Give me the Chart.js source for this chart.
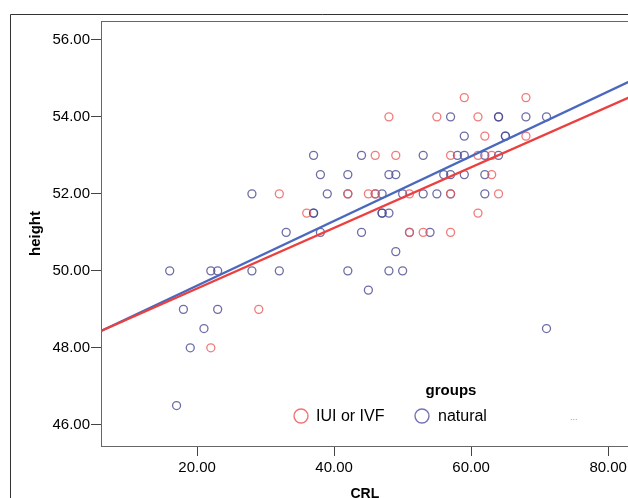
<!DOCTYPE html>
<html>
<head>
<meta charset="utf-8">
<script src="https://cdn.jsdelivr.net/npm/chart.js@4.4.0/dist/chart.umd.min.js"></script>
<style>
  html, body { margin: 0; padding: 0; background: #fff; overflow: hidden; }
  #wrap { width: 628px; height: 498px; overflow: hidden; }
</style>
</head>
<body>
<div id="wrap"><canvas id="scatterChart" width="634" height="510"></canvas></div>
<script>
// values
var ivfCRL    = [48, 59, 68, 55, 61, 46, 49, 32, 42, 45, 46, 51, 36, 51, 53, 57, 62, 68, 57, 61, 63, 63, 57, 64, 61, 29, 22];
var ivfHeight = [54, 54.5, 54.5, 54, 54, 53, 53, 52, 52, 52, 52, 52, 51.5, 51, 51, 51, 53.5, 53.5, 53, 53, 53, 52.5, 52, 52, 51.5, 49, 48];

var naturalCRL    = [57, 64, 64, 68, 71, 59, 65, 65, 37, 44, 53, 58, 59, 62, 64,
                     38, 42, 48, 49, 56, 57, 59, 62,
                     28, 39, 42, 46, 47, 50, 53, 55, 57, 62,
                     37, 37, 47, 47, 48, 33, 38, 44, 51, 54, 49,
                     16, 22, 23, 28, 32, 42, 48, 50, 45, 18, 23, 21, 71, 19, 17];
var naturalHeight = [54, 54, 54, 54, 54, 53.5, 53.5, 53.5, 53, 53, 53, 53, 53, 53, 53,
                     52.5, 52.5, 52.5, 52.5, 52.5, 52.5, 52.5, 52.5,
                     52, 52, 52, 52, 52, 52, 52, 52, 52, 52,
                     51.5, 51.5, 51.5, 51.5, 51.5, 51, 51, 51, 51, 51, 50.5,
                     50, 50, 50, 50, 50, 50, 50, 50, 49.5, 49, 49, 48.5, 48.5, 48, 46.5];

// fit lines (end points across the plot)
var fitCRL        = [5.97, 83.0];
var ivfFitHeight  = [48.44, 54.50];
var natFitHeight  = [48.44, 54.91];

var xTicks = [20, 40, 60, 80];
var yTicks = [46, 48, 50, 52, 54, 56];
var groupNames = ['IUI or IVF', 'natural'];

var redPt = 'rgba(238, 90, 90, 0.8)';
var bluePt = 'rgba(72, 72, 145, 0.8)';

function toPoints(xs, ys) {
    return xs.map(function (x, i) { return { x: x, y: ys[i] }; });
}

var framePlugin = {
    id: 'framePlugin',
    beforeDraw: function (chart) {
        var ctx = chart.ctx;
        ctx.save();
        ctx.strokeStyle = '#333';
        ctx.lineWidth = 1;
        ctx.beginPath();
        ctx.moveTo(10.5, 520);
        ctx.lineTo(10.5, 14.5);
        ctx.lineTo(640, 14.5);
        ctx.stroke();
        ctx.restore();
    },
    afterDraw: function (chart) {
        var ctx = chart.ctx;
        var a = chart.chartArea;
        ctx.save();
        // top of plot box
        ctx.strokeStyle = '#666';
        ctx.lineWidth = 1;
        ctx.beginPath();
        ctx.moveTo(a.left, a.top + 0.5);
        ctx.lineTo(a.right + 10, a.top + 0.5);
        ctx.stroke();

        // legend
        ctx.fillStyle = '#000';
        ctx.textBaseline = 'middle';
        ctx.textAlign = 'center';
        ctx.font = 'bold 15px "Liberation Sans", Arial, sans-serif';
        ctx.fillText('groups', 451, 391);
        ctx.textAlign = 'left';
        ctx.font = '16px "Liberation Sans", Arial, sans-serif';
        var items = [
            { cx: 301, tx: 316, color: 'rgba(238, 90, 90, 0.85)' },
            { cx: 422, tx: 438, color: 'rgba(80, 80, 160, 0.8)' }
        ];
        items.forEach(function (it, i) {
            ctx.strokeStyle = it.color;
            ctx.lineWidth = 1.4;
            ctx.beginPath();
            ctx.arc(it.cx, 416, 7, 0, Math.PI * 2);
            ctx.stroke();
            ctx.fillStyle = '#000';
            ctx.fillText(groupNames[i], it.tx, 417);
        });
        ctx.fillStyle = '#999';
        ctx.font = '9px "Liberation Sans", Arial, sans-serif';
        ctx.fillText('...', 570, 418);
        ctx.restore();
    }
};

var ctx = document.getElementById('scatterChart').getContext('2d');
var scatterChart = new Chart(ctx, {
    type: 'scatter',
    data: {
        datasets: [
            {
                label: 'IUI or IVF fit',
                type: 'line',
                data: toPoints(fitCRL, ivfFitHeight),
                borderColor: 'rgb(236, 64, 64)',
                borderWidth: 2.2,
                pointRadius: 0,
                fill: false,
                order: 0
            },
            {
                label: 'natural fit',
                type: 'line',
                data: toPoints(fitCRL, natFitHeight),
                borderColor: 'rgb(74, 104, 190)',
                borderWidth: 2.2,
                pointRadius: 0,
                fill: false,
                order: 0
            },
            {
                label: groupNames[0],
                data: toPoints(ivfCRL, ivfHeight),
                pointStyle: 'circle',
                pointRadius: 4,
                borderWidth: 1.3,
                borderColor: redPt,
                backgroundColor: 'rgba(0,0,0,0)',
                order: 1
            },
            {
                label: groupNames[1],
                data: toPoints(naturalCRL, naturalHeight),
                pointStyle: 'circle',
                pointRadius: 4,
                borderWidth: 1.3,
                borderColor: bluePt,
                backgroundColor: 'rgba(0,0,0,0)',
                order: 1
            }
        ]
    },
    options: {
        responsive: false,
        animation: false,
        layout: { padding: { top: 21, left: 0, right: 0, bottom: 0 } },
        plugins: {
            legend: { display: false },
            tooltip: { enabled: false }
        },
        scales: {
            x: {
                type: 'linear',
                min: 5.97,
                max: 83.0,
                afterFit: function (scale) {
                    scale.height = 64;
                    scale.paddingLeft = 0;
                    scale.paddingRight = 0;
                },
                afterBuildTicks: function (scale) {
                    scale.ticks = xTicks.map(function (v) { return { value: v }; });
                },
                ticks: {
                    color: '#000',
                    padding: 3,
                    maxRotation: 0,
                    font: { family: '"Liberation Sans", Arial, sans-serif', size: 15 },
                    callback: function (v) { return Number(v).toFixed(2); }
                },
                grid: { drawOnChartArea: false, drawTicks: true, tickLength: 10, color: '#444' },
                border: { display: true, color: '#666', width: 1 },
                title: {
                    display: true,
                    text: 'CRL',
                    color: '#000',
                    padding: { top: 0, bottom: 7 },
                    font: { family: '"Liberation Sans", Arial, sans-serif', size: 14, weight: 'bold' }
                }
            },
            y: {
                type: 'linear',
                min: 45.45,
                max: 56.49,
                afterFit: function (scale) {
                    scale.width = 101;
                    scale.paddingTop = 0;
                    scale.paddingBottom = 0;
                },
                afterBuildTicks: function (scale) {
                    scale.ticks = yTicks.map(function (v) { return { value: v }; });
                },
                ticks: {
                    color: '#000',
                    padding: 1,
                    font: { family: '"Liberation Sans", Arial, sans-serif', size: 15 },
                    callback: function (v) { return Number(v).toFixed(2); }
                },
                grid: { drawOnChartArea: false, drawTicks: true, tickLength: 10, color: '#444' },
                border: { display: true, color: '#666', width: 1 },
                title: {
                    display: true,
                    text: 'height',
                    color: '#000',
                    padding: { top: 27, bottom: 0 },
                    font: { family: '"Liberation Sans", Arial, sans-serif', size: 15, weight: 'bold' }
                }
            }
        }
    },
    plugins: [framePlugin]
});
</script>
</body>
</html>
